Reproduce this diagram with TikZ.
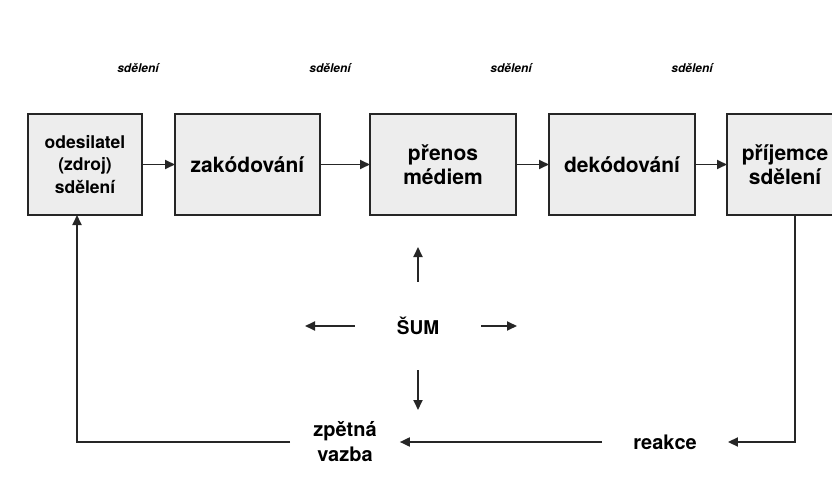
\documentclass[tikz,border=0pt]{standalone}
\usepackage{fontspec}
\setmainfont{TeX Gyre Heros}
\usetikzlibrary{arrows.meta,positioning}

\begin{document}
\begin{tikzpicture}[
    x=1pt, y=-1pt,
    font=\bfseries\fontsize{21}{24}\selectfont,
    box/.style={draw=black!85,line width=2.4pt,fill=black!7,minimum height=101pt,align=center,inner sep=0pt,outer sep=0pt},
    arr/.style={-{Triangle[length=10pt,width=9pt]},line width=1.8pt,draw=black!85},
    msg/.style={font=\bfseries\itshape\fontsize{12}{14}\selectfont},
    lbl/.style={align=center,font=\bfseries\fontsize{20}{25}\selectfont},
    node distance=33pt
]
\useasboundingbox (0,0) rectangle (832,481);

% chain of boxes
\node[box,minimum width=114pt,font=\bfseries\fontsize{17.5}{22.5}\selectfont] (sender) at (85,164.5) {odesilatel\\(zdroj)\\sdělení};
\node[box,minimum width=145pt,right=of sender] (encode) {zakódování};
\node[box,minimum width=146pt,right=50pt of encode] (medium) {přenos\\médiem};
\node[box,minimum width=146pt,right=of medium] (decode) {dekódování};
\node[box,minimum width=116pt,right=32pt of decode] (receiver) {příjemce\\sdělení};
\draw[arr] (sender)--(encode);
\draw[arr] (encode)--(medium);
\draw[arr] (medium)--(decode);
\draw[arr] (decode)--(receiver);

% message labels
\node[msg] (m1) at (138,68) {sdělení};
\node[msg] (m2) at (330,68) {sdělení};
\node[msg] (m3) at (511,68) {sdělení};
\node[msg] (m4) at (692,68) {sdělení};

% noise
\node[lbl,font=\bfseries\fontsize{19}{22}\selectfont,inner xsep=42pt,inner ysep=35pt] (noise) at (418,326) {ŠUM};
\coordinate (n-up) at (418,247);
\coordinate (n-down) at (418,410);
\coordinate (n-left) at (305,326);
\coordinate (n-right) at (517,326);
\draw[arr] (noise)--(n-up);
\draw[arr] (noise)--(n-down);
\draw[arr] (noise)--(n-left);
\draw[arr] (noise)--(n-right);

% feedback loop
\node[lbl,inner xsep=31pt] (reaction) at (665,442) {reakce};
\node[lbl,inner xsep=23pt] (feedback) at (345,442) {zpětná\\vazba};
\draw[arr] ([xshift=10pt]receiver.south) |- (reaction);
\draw[arr] (reaction)--(feedback);
\draw[arr] (feedback) -| ([xshift=-8pt]sender.south);
\end{tikzpicture}
\end{document}
